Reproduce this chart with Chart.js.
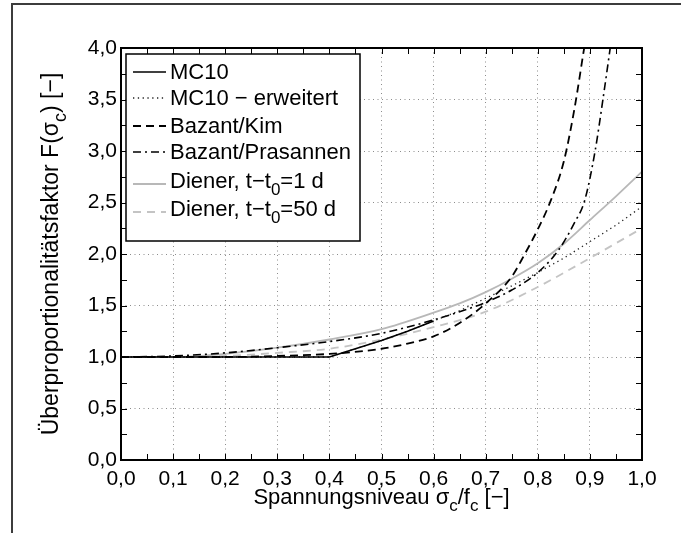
<!DOCTYPE html>
<html>
<head>
<meta charset="utf-8">
<script src="https://cdn.jsdelivr.net/npm/chart.js@4"></script>
<style>
  body { margin: 0; background: #fff; }
  #wrap { position: relative; width: 681px; height: 533px; }
  #edge { position: absolute; left: 11px; top: 3px; right: 0; bottom: 0; border-top: 2px solid #3c3c3c; border-left: 2px solid #3c3c3c; pointer-events: none; }
</style>
</head>
<body>
<div id="wrap">
  <canvas id="myChart" width="681" height="533"></canvas>
  <div id="edge"></div>
</div>
<script>
// stress level sigma_c/f_c and overproportionality factor per model
const mc10X = [0, 0.4, 0.45, 0.5, 0.55, 0.6];
const mc10Y = [1.0, 1.0, 1.08, 1.16, 1.25, 1.35];

const mc10ExtX = [0, 0.4, 0.45, 0.5, 0.55, 0.6, 0.65, 0.7, 0.75, 0.8, 0.85, 0.9, 0.95, 1.0];
const mc10ExtY = [1.0, 1.0, 1.08, 1.16, 1.25, 1.35, 1.45, 1.57, 1.69, 1.82, 1.96, 2.12, 2.28, 2.46];

const kimX = [0, 0.1, 0.2, 0.3, 0.4, 0.5, 0.55, 0.6, 0.65, 0.7, 0.75, 0.775, 0.8, 0.825, 0.85, 0.87, 0.889];
const kimY = [1.0, 1.0, 1.0, 1.01, 1.03, 1.08, 1.13, 1.2, 1.33, 1.52, 1.78, 2.0, 2.24, 2.52, 2.9, 3.4, 4.0];

const prasX = [0, 0.1, 0.2, 0.3, 0.4, 0.5, 0.6, 0.65, 0.7, 0.75, 0.8, 0.84, 0.87, 0.89, 0.91, 0.925, 0.939];
const prasY = [1.0, 1.01, 1.04, 1.09, 1.15, 1.23, 1.36, 1.44, 1.53, 1.65, 1.82, 2.04, 2.3, 2.52, 3.0, 3.5, 4.0];

const diener1X = [0, 0.1, 0.2, 0.3, 0.4, 0.5, 0.6, 0.65, 0.7, 0.75, 0.8, 0.85, 0.9, 0.95, 1.0];
const diener1Y = [1.0, 1.0, 1.03, 1.09, 1.17, 1.27, 1.43, 1.52, 1.63, 1.76, 1.91, 2.1, 2.33, 2.56, 2.8];

const diener50X = [0, 0.1, 0.2, 0.3, 0.4, 0.5, 0.6, 0.7, 0.8, 0.9, 1.0];
const diener50Y = [1.0, 1.0, 1.01, 1.04, 1.08, 1.17, 1.29, 1.44, 1.68, 1.96, 2.25];

const xTicks = [0, 0.1, 0.2, 0.3, 0.4, 0.5, 0.6, 0.7, 0.8, 0.9, 1.0];
const yTicks = [0, 0.5, 1.0, 1.5, 2.0, 2.5, 3.0, 3.5, 4.0];

const xTitle = "Spannungsniveau σ_c/f_c [−]";
const yTitle = "Überproportionalitätsfaktor F(σ_c) [−]";

const FONT = "'Liberation Sans', Arial, Helvetica, sans-serif";

function pts(xs, ys) {
  return xs.map((x, i) => ({ x: x, y: ys[i] }));
}

// "_c" means: c as subscript
function richParts(s) {
  const out = [];
  const re = /_(.)/g;
  let last = 0, m;
  while ((m = re.exec(s))) {
    if (m.index > last) out.push({ t: s.slice(last, m.index), sub: false });
    out.push({ t: m[1], sub: true });
    last = re.lastIndex;
  }
  if (last < s.length) out.push({ t: s.slice(last), sub: false });
  return out;
}

function drawRich(ctx, s, x, y, size, align) {
  const parts = richParts(s);
  const subSize = Math.round(size * 0.78);
  let total = 0;
  parts.forEach((p) => {
    ctx.font = `${p.sub ? subSize : size}px ${FONT}`;
    p.w = ctx.measureText(p.t).width;
    total += p.w;
  });
  let cx = align === "center" ? x - total / 2 : x;
  ctx.textAlign = "left";
  ctx.textBaseline = "alphabetic";
  parts.forEach((p) => {
    ctx.font = `${p.sub ? subSize : size}px ${FONT}`;
    ctx.fillText(p.t, cx, p.sub ? y + size * 0.33 : y);
    cx += p.w;
  });
}

const legendRows = [
  { line: 72, base: 79 },
  { line: 98, base: 105 },
  { line: 126, base: 133 },
  { line: 152, base: 159 },
  { line: 184, base: 188 },
  { line: 212, base: 216 },
];

const decorPlugin = {
  id: "decor",
  afterDraw(chart) {
    const { ctx, chartArea: a, scales } = chart;
    const xs = scales.x, ys = scales.y;
    ctx.save();

    // inward tick marks on all four sides
    ctx.strokeStyle = "#000";
    ctx.lineWidth = 1;
    ctx.beginPath();
    for (let i = 0; i <= 20; i++) {
      const px = Math.round(xs.getPixelForValue(i * 0.05)) + 0.5;
      ctx.moveTo(px, a.bottom); ctx.lineTo(px, a.bottom - 6);
      ctx.moveTo(px, a.top); ctx.lineTo(px, a.top + 6);
    }
    for (let i = 0; i <= 16; i++) {
      const py = Math.round(ys.getPixelForValue(i * 0.25)) + 0.5;
      ctx.moveTo(a.left, py); ctx.lineTo(a.left + 6, py);
      ctx.moveTo(a.right, py); ctx.lineTo(a.right - 6, py);
    }
    ctx.stroke();

    // plot box
    ctx.lineWidth = 2;
    ctx.strokeRect(a.left, a.top, a.right - a.left, a.bottom - a.top);

    // legend
    const lx = a.left + 5, ly = a.top + 6;
    ctx.fillStyle = "#fff";
    ctx.fillRect(lx, ly, 234, 187);
    ctx.lineWidth = 1.5;
    ctx.strokeStyle = "#000";
    ctx.strokeRect(lx, ly, 234, 187);
    chart.data.datasets.forEach((ds, i) => {
      const r = legendRows[i];
      ctx.beginPath();
      ctx.setLineDash(ds.borderDash || []);
      ctx.strokeStyle = ds.borderColor;
      ctx.lineWidth = ds.borderWidth;
      ctx.moveTo(a.left + 12, r.line);
      ctx.lineTo(a.left + 45, r.line);
      ctx.stroke();
      ctx.setLineDash([]);
      ctx.fillStyle = "#000";
      drawRich(ctx, ds.label, a.left + 49, r.base, 22, "left");
    });

    // axis titles
    ctx.fillStyle = "#000";
    drawRich(ctx, xTitle, (a.left + a.right) / 2, 504, 22, "center");
    ctx.translate(58, (a.top + a.bottom) / 2);
    ctx.rotate(-Math.PI / 2);
    drawRich(ctx, yTitle, 0, 0, 23, "center");
    ctx.restore();
  },
};

const fmt = (v) => v.toFixed(1).replace(".", ",");

new Chart(document.getElementById("myChart").getContext("2d"), {
  type: "line",
  data: {
    datasets: [
      { label: "MC10", data: pts(mc10X, mc10Y), borderColor: "#000", borderWidth: 1.6, tension: 0 },
      { label: "MC10 − erweitert", data: pts(mc10ExtX, mc10ExtY), borderColor: "#222", borderWidth: 1.3, borderDash: [1.3, 3.5], tension: 0 },
      { label: "Bazant/Kim", data: pts(kimX, kimY), borderColor: "#000", borderWidth: 1.8, borderDash: [8, 5], cubicInterpolationMode: "monotone" },
      { label: "Bazant/Prasannen", data: pts(prasX, prasY), borderColor: "#000", borderWidth: 1.6, borderDash: [8, 4, 2, 4], cubicInterpolationMode: "monotone" },
      { label: "Diener, t−t_0=1 d", data: pts(diener1X, diener1Y), borderColor: "#b8b8b8", borderWidth: 1.8, cubicInterpolationMode: "monotone" },
      { label: "Diener, t−t_0=50 d", data: pts(diener50X, diener50Y), borderColor: "#c4c4c4", borderWidth: 1.8, borderDash: [8, 6], cubicInterpolationMode: "monotone" },
    ],
  },
  options: {
    responsive: false,
    devicePixelRatio: 1,
    animation: false,
    layout: { padding: { left: 0, top: 48, right: 39, bottom: 0 } },
    elements: { point: { radius: 0 } },
    plugins: { legend: { display: false }, tooltip: { enabled: false } },
    scales: {
      x: {
        type: "linear",
        min: 0,
        max: 1,
        afterBuildTicks: (s) => { s.ticks = xTicks.map((v) => ({ value: v })); },
        afterFit: (s) => { s.height = 73; },
        grid: { color: "#8c8c8c", lineWidth: 1, drawTicks: false },
        border: { display: false, dash: [1, 3.5] },
        ticks: {
          color: "#000",
          padding: 7,
          maxRotation: 0,
          font: { family: FONT, size: 21 },
          callback: (v) => fmt(v),
        },
      },
      y: {
        min: 0,
        max: 4,
        afterBuildTicks: (s) => { s.ticks = yTicks.map((v) => ({ value: v })); },
        afterFit: (s) => { s.width = 121; },
        grid: { color: "#8c8c8c", lineWidth: 1, drawTicks: false },
        border: { display: false, dash: [1, 3.5] },
        ticks: {
          color: "#000",
          padding: 4,
          font: { family: FONT, size: 21 },
          callback: (v) => fmt(v),
        },
      },
    },
  },
  plugins: [decorPlugin],
});
</script>
</body>
</html>
